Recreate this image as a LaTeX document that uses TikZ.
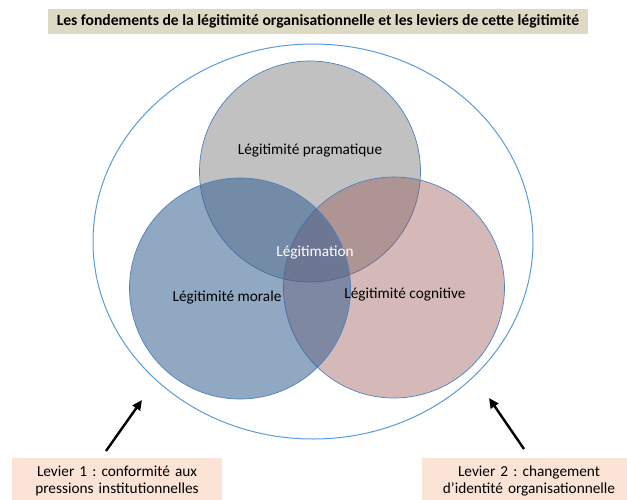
\documentclass[tikz,border=0pt]{standalone}
\usepackage{fontspec}
\setmainfont{Carlito}
\usetikzlibrary{arrows.meta, positioning}
\frenchspacing

\definecolor{titlefill}{RGB}{221,217,196}
\definecolor{leverfill}{RGB}{251,228,214}
\definecolor{ringblue}{RGB}{91,155,213}
\definecolor{edgeblue}{RGB}{79,129,189}
\definecolor{pragfill}{RGB}{166,166,166}
\definecolor{moralfill}{RGB}{55,96,146}
\definecolor{cognfill}{RGB}{150,80,80}

\tikzset{
  venn/.style={circle, draw=edgeblue, line width=0.7pt, minimum size=221pt, inner sep=0pt},
  vennlabel/.style={font=\fontsize{15.3}{17}\selectfont},
  lever/.style={fill=leverfill, text width=#1, align=center, inner xsep=0pt, inner ysep=8pt, font=\fontsize{15.3}{17}\selectfont},
  push/.style={-{Triangle[length=10pt,width=9pt]}, line width=2.4pt, black}
}

\begin{document}
\begin{tikzpicture}[x=1pt, y=-1pt]
        \useasboundingbox (0,0) rectangle (627,499);

        % Title
        \node[fill=titlefill, minimum width=540pt, minimum height=25pt, inner sep=0pt,
              font=\bfseries\fontsize{15.6}{17}\selectfont] (title) at (318,21.5)
              {Les fondements de la légitimité organisationnelle et les leviers de cette légitimité};

        % Outer ring
        \draw[ringblue, line width=1pt] (313,241.5) ellipse [x radius=220pt, y radius=197.5pt];

        % Three circles
        \node[venn, fill=pragfill, fill opacity=0.7] (prag) at (310,171.5) {};
        \node[venn, fill=cognfill, fill opacity=0.4] (cogn) at (394,287.5) {};
        \node[venn, fill=moralfill, fill opacity=0.55] (moral) at (240,288.5) {};

        % Labels
        \node[vennlabel] (lprag) at (310,151) {Légitimité pragmatique};
        \node[vennlabel] (lmoral) at (227,297) {Légitimité morale};
        \node[vennlabel] (lcogn) at (405,295) {Légitimité cognitive};
        \node[vennlabel, white] (lcenter) at (315,253) {Légitimation};

        % Levers
        \node[lever=210pt, anchor=north] (lev1) at (117,458) {Levier 1 : conformité aux\\pressions institutionnelles};
        \node[lever=214pt, anchor=north] (lev2) at (529,458) {Levier 2 : changement\\d’identité organisationnelle};

        \coordinate (tip1) at (142,400);
        \coordinate (tip2) at (489,398);
        \draw[push] ([shift={(-11,-7)}]lev1.north) -- (tip1);
        \draw[push] ([shift={(-5,-9)}]lev2.north) -- (tip2);
    \end{tikzpicture}
\end{document}
